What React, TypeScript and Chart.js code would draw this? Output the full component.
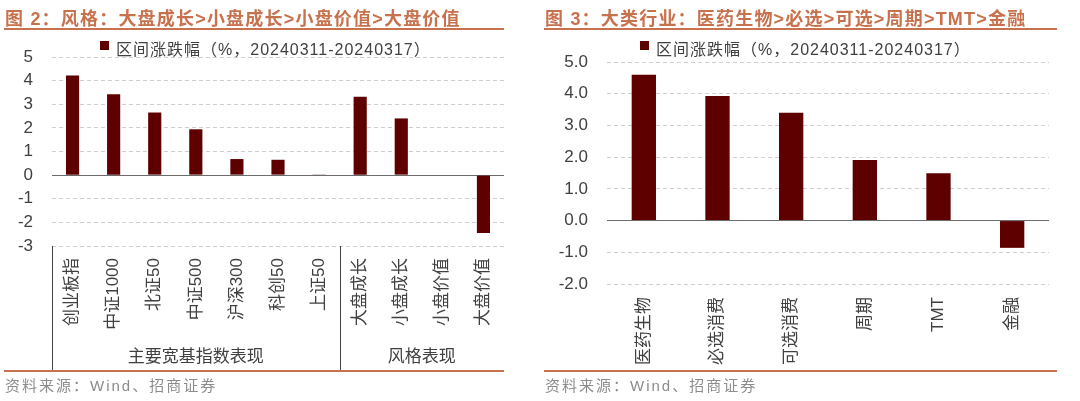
import { useEffect, useRef } from "react";
import Chart from "chart.js/auto";

// 图2：风格
const styleCategories = ["创业板指", "中证1000", "北证50", "中证500", "沪深300", "科创50", "上证50", "大盘成长", "小盘成长", "小盘价值", "大盘价值"];
const styleValues = [4.22, 3.42, 2.65, 1.94, 0.68, 0.65, 0.03, 3.32, 2.4, 0.02, -2.45];
const styleGroups = ["主要宽基指数表现", "风格表现"];
const styleGroupSizes = [7, 4];

// 图3：大类行业
const sectorCategories = ["医药生物", "必选消费", "可选消费", "周期", "TMT", "金融"];
const sectorValues = [4.6, 3.93, 3.4, 1.91, 1.49, -0.86];

const legendText = "区间涨跌幅（%，20240311-20240317）";
const titleLeft = "图 2：风格：大盘成长>小盘成长>小盘价值>大盘价值";
const titleRight = "图 3：大类行业：医药生物>必选>可选>周期>TMT>金融";
const sourceText = "资料来源：Wind、招商证券";

const BAR = "#5E0000";
const ACCENT = "#C8714D";
const TEXT = "#404040";
const FONT = '"Liberation Sans", "Noto Sans CJK SC", sans-serif';

const groupPlugin = {
    id: "groups",
    afterDraw(chart: any) {
        const { ctx, chartArea, scales } = chart;
        const x = scales.x;
        const w = (x.right - x.left) / styleCategories.length;
        ctx.save();
        ctx.strokeStyle = TEXT;
        ctx.lineWidth = 1;
        let start = 0;
        styleGroupSizes.forEach((size, i) => {
            const left = x.left + start * w;
            ctx.beginPath();
            ctx.moveTo(Math.round(left) + 0.5, chartArea.bottom);
            ctx.lineTo(Math.round(left) + 0.5, 371);
            ctx.stroke();
            ctx.fillStyle = TEXT;
            ctx.font = `17px ${FONT}`;
            ctx.textAlign = "center";
            ctx.textBaseline = "middle";
            ctx.fillText(styleGroups[i], left + (size * w) / 2, 357);
            start += size;
        });
        ctx.restore();
    },
};

const makeOptions = (min: number, max: number, fmt: (v: number) => string, pad: any, xHeight: number, yWidth: number, xPad: number) => ({
    animation: false as const,
    responsive: false,
    maintainAspectRatio: false,
    layout: { padding: pad },
    plugins: { legend: { display: false }, tooltip: { enabled: false } },
    scales: {
        x: {
            grid: { display: false, drawTicks: false },
            border: { display: false },
            ticks: {
                autoSkip: false,
                minRotation: 90,
                maxRotation: 90,
                padding: xPad,
                color: TEXT,
                font: { family: FONT, size: 17 },
            },
            afterFit: (s: any) => {
                s.height = xHeight;
            },
        },
        y: {
            min,
            max,
            ticks: {
                stepSize: 1,
                padding: 19,
                color: TEXT,
                font: { family: FONT, size: 17 },
                callback: (v: any) => fmt(Number(v)),
            },
            grid: {
                drawTicks: false,
                color: (c: any) => (c.tick && c.tick.value === 0 ? "#6b6b6b" : "#cfcfcf"),
            },
            border: {
                display: false,
                dash: (c: any) => (c.tick && c.tick.value === 0 ? [] : [4, 3]),
            },
            afterFit: (s: any) => {
                s.width = yWidth;
            },
        },
    },
});

const Panel = ({ left, title }: { left: number; title: string }) => (
    <>
        <div style={{ position: "absolute", left: left + 5, top: 4, fontFamily: FONT, fontWeight: "bold", fontSize: 18, letterSpacing: 1.2, color: ACCENT, whiteSpace: "nowrap" }}>{title}</div>
        <div style={{ position: "absolute", left: left + 4, top: 28, width: left === 0 ? 500 : 513, height: 2, background: ACCENT }} />
        <div style={{ position: "absolute", left: left + 100, top: 41, width: 9, height: 9, background: BAR }} />
        <div style={{ position: "absolute", left: left + 116, top: 36, fontFamily: FONT, fontSize: 16, letterSpacing: 1, color: TEXT, whiteSpace: "nowrap" }}>{legendText}</div>
        <div style={{ position: "absolute", left: left + 4, top: 370, width: left === 0 ? 500 : 513, height: 2, background: ACCENT }} />
        <div style={{ position: "absolute", left: left + 5, top: 374, fontFamily: FONT, fontSize: 15, letterSpacing: 2, color: "#8c8c8c", whiteSpace: "nowrap" }}>{sourceText}</div>
    </>
);

export default function App() {
    const leftRef = useRef<HTMLCanvasElement | null>(null);
    const rightRef = useRef<HTMLCanvasElement | null>(null);

    useEffect(() => {
        document.body.style.margin = "0";
        const charts: Chart[] = [];
        if (leftRef.current) {
            charts.push(
                new Chart(leftRef.current, {
                    type: "bar",
                    data: {
                        labels: styleCategories,
                        datasets: [{ label: legendText, data: styleValues, backgroundColor: BAR, barPercentage: 1, categoryPercentage: 0.32 }],
                    },
                    options: makeOptions(-3, 5, (v) => String(v), { top: 57, left: 0, right: 36, bottom: 30 }, 125, 52, 12) as any,
                    plugins: [groupPlugin],
                })
            );
        }
        if (rightRef.current) {
            charts.push(
                new Chart(rightRef.current, {
                    type: "bar",
                    data: {
                        labels: sectorCategories,
                        datasets: [{ label: legendText, data: sectorValues, backgroundColor: BAR, barPercentage: 1, categoryPercentage: 0.33 }],
                    },
                    options: makeOptions(-2, 5, (v) => v.toFixed(1), { top: 62, left: 0, right: 31, bottom: 27 }, 90, 67, 13) as any,
                })
            );
        }
        return () => charts.forEach((c) => c.destroy());
    }, []);

    return (
        <div style={{ position: "relative", width: 1080, height: 401, background: "#fff", overflow: "hidden" }}>
            <canvas ref={leftRef} width={540} height={401} style={{ position: "absolute", left: 0, top: 0, width: 540, height: 401 }} />
            <canvas ref={rightRef} width={540} height={401} style={{ position: "absolute", left: 540, top: 0, width: 540, height: 401 }} />
            <Panel left={0} title={titleLeft} />
            <Panel left={540} title={titleRight} />
        </div>
    );
}
